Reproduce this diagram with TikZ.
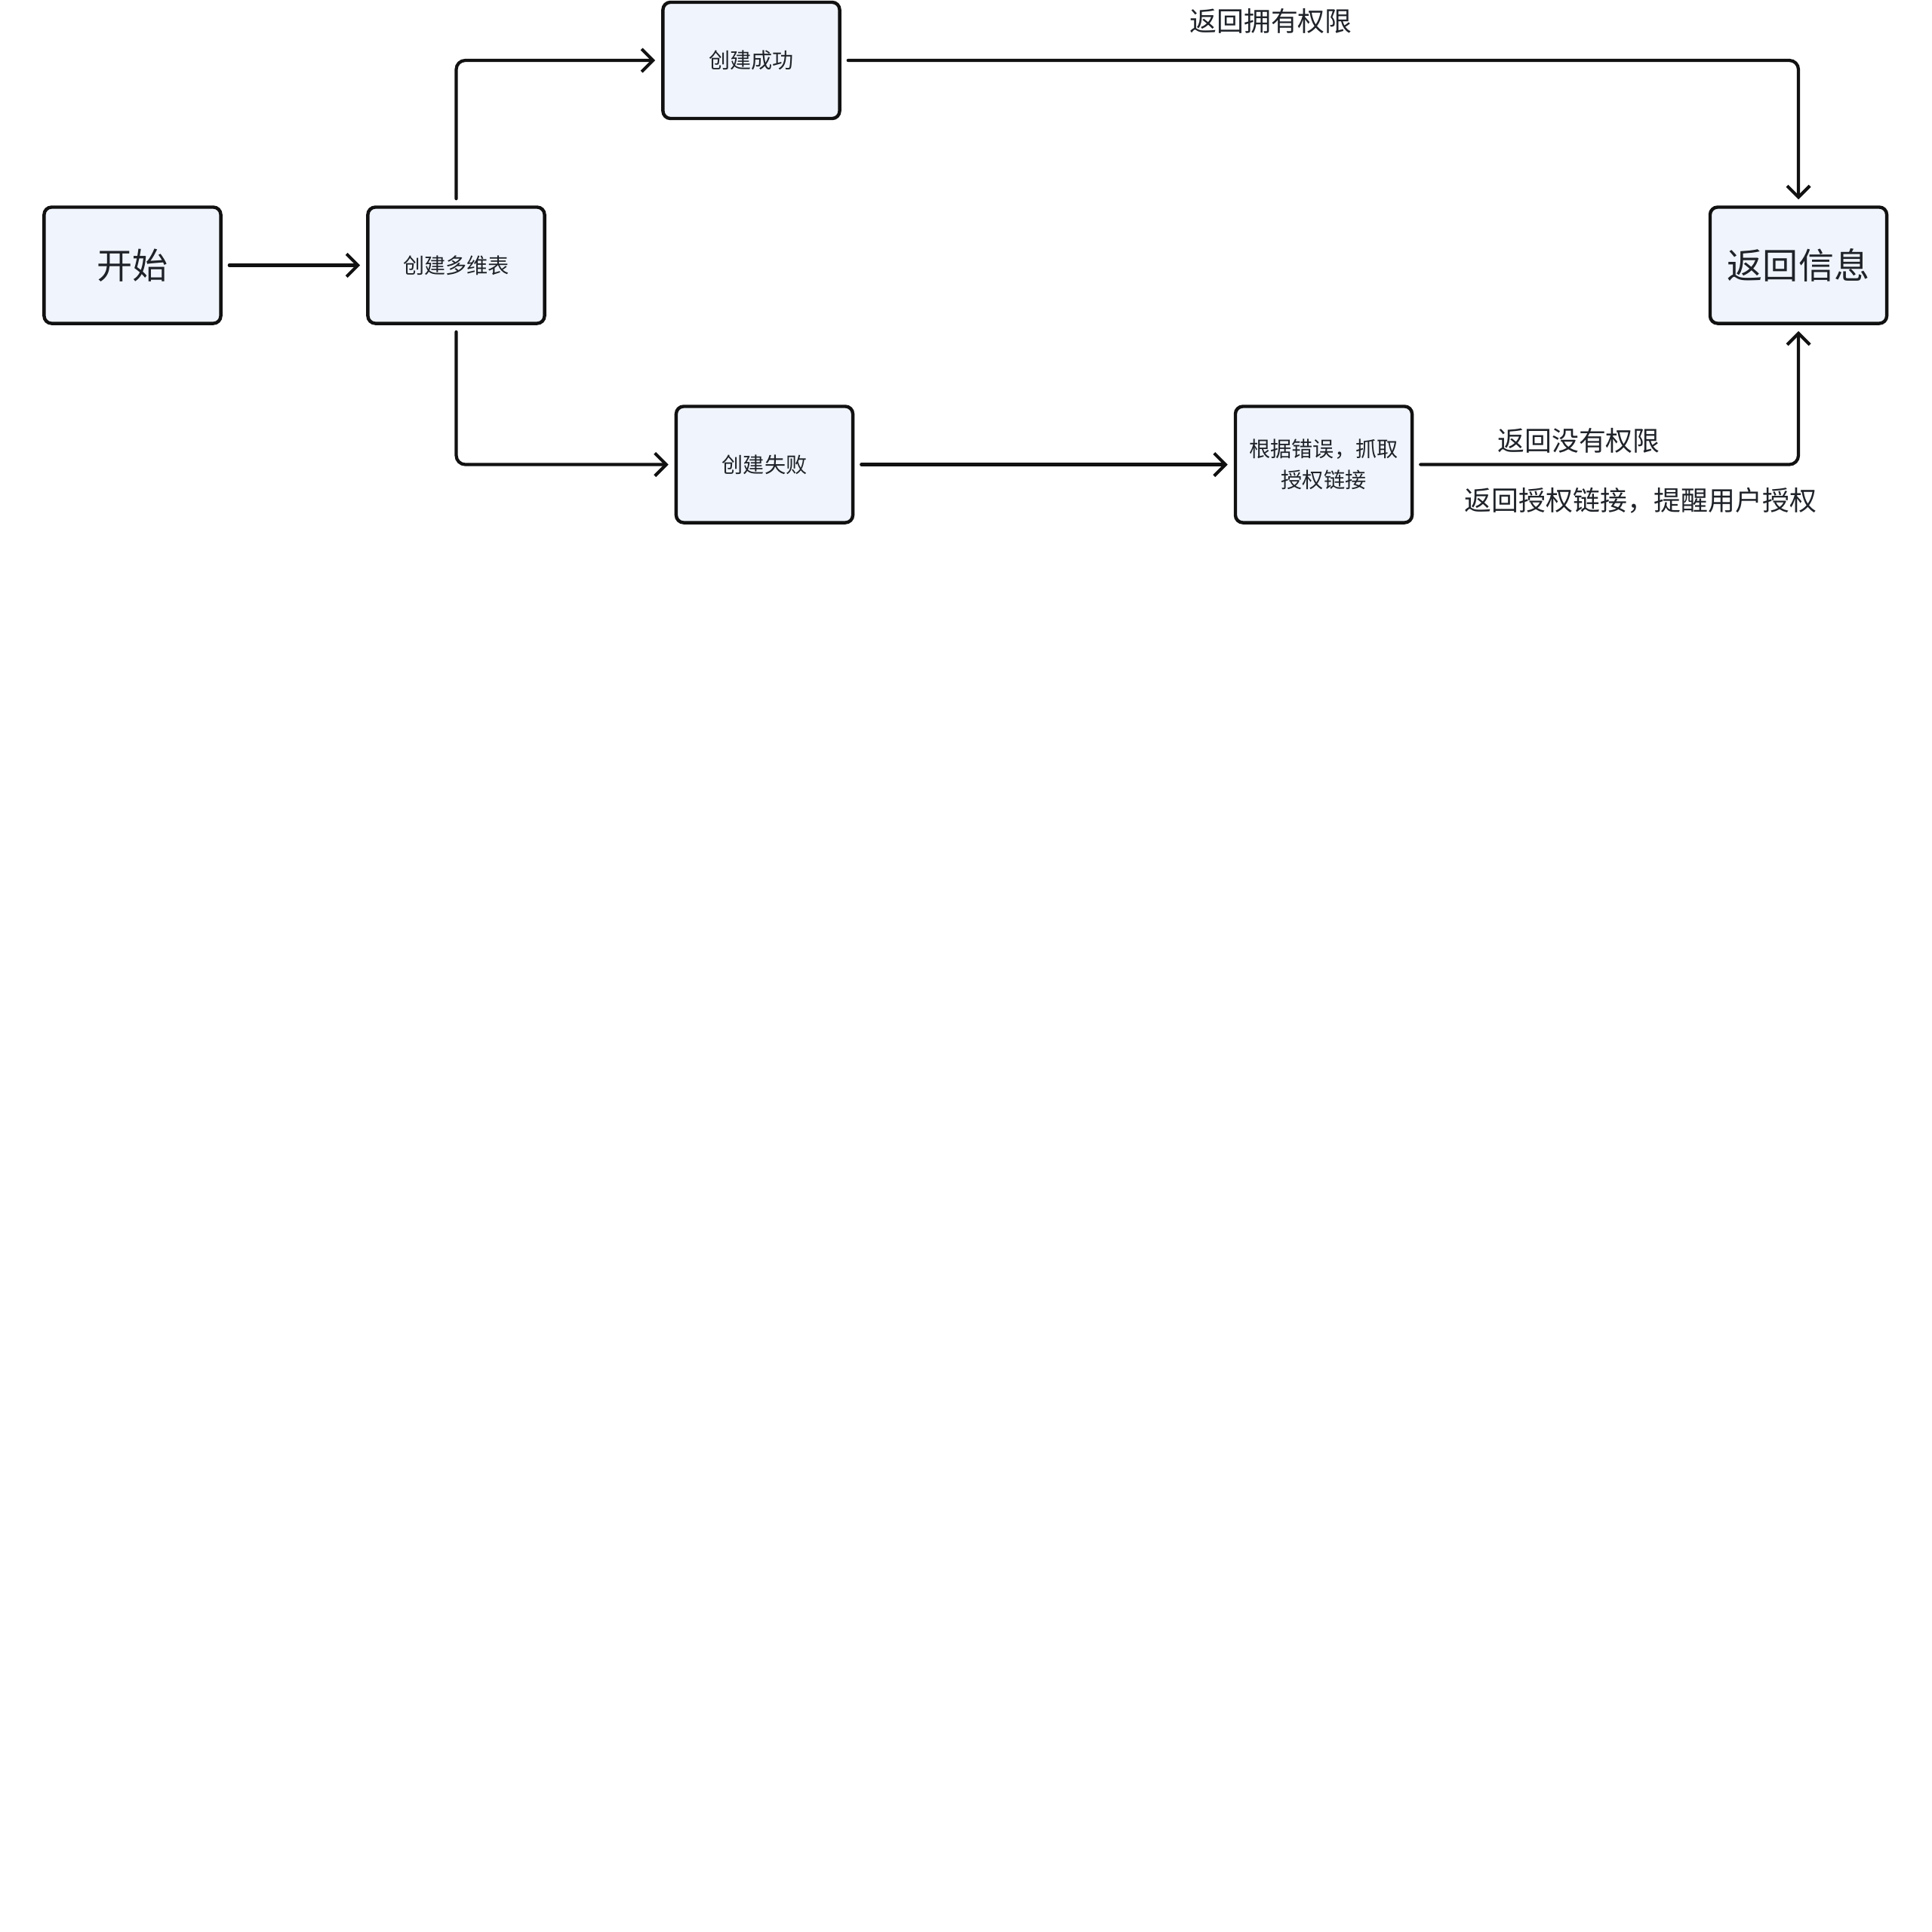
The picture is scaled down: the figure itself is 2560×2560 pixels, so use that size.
\documentclass[tikz,border=0pt]{standalone}
\usepackage{fontspec}
\setmainfont{Noto Sans CJK SC}
\usetikzlibrary{arrows.meta}
\definecolor{boxfill}{HTML}{F0F4FC}
\definecolor{txt}{HTML}{1F2329}
\definecolor{ln}{HTML}{111111}
\tikzset{
  flowbox/.style={draw=ln, fill=boxfill, line width=1.25pt, rounded corners=0.1cm,
    minimum width=2.34cm, minimum height=1.54cm, inner sep=0pt, align=center,
    text=txt, font=\fontsize{8pt}{11.7pt}\selectfont},
  bigbox/.style={flowbox, font=\fontsize{13.4pt}{16pt}\selectfont},
  conn/.style={draw=ln, line width=1.2pt, line cap=round, rounded corners=0.12cm,
    -{Straight Barb[length=0.15cm,width=0.3cm,line width=1.2pt]}},
  lbl/.style={text=txt, font=\fontsize{10.2pt}{12pt}\selectfont, inner sep=0pt},
}
\begin{document}
\begin{tikzpicture}[x=0.01cm,y=-0.01cm]
\useasboundingbox (0,0) rectangle (2560,2560);
\node[bigbox] (start) at (175.5,351.5) {开始};
\node[flowbox] (dw) at (604.5,351.5) {创建多维表};
\node[flowbox] (cg) at (995.5,80) {创建成功};
\node[flowbox] (sb) at (1013,615.5) {创建失败};
\node[flowbox] (gj) at (1754,615.5) {根据错误，抓取\\授权链接};
\node[bigbox] (info) at (2383,351.5) {返回信息};
\node[lbl] (l1) at (1684,28) {返回拥有权限};
\node[lbl] (l2) at (2092,584) {返回没有权限};
\node[lbl] (l3) at (2174,663) {返回授权链接，提醒用户授权};
\draw[conn, shorten <=0.09cm, shorten >=0.08cm] (start.east) -- (dw.west);
\draw[conn, shorten <=0.09cm, shorten >=0.08cm] (dw.north) |- (cg.west);
\draw[conn, shorten <=0.09cm, shorten >=0.08cm] (dw.south) |- (sb.west);
\draw[conn, shorten <=0.09cm, shorten >=0.08cm] (sb.east) -- (gj.west);
\draw[conn, shorten <=0.09cm, shorten >=0.08cm] (cg.east) -| (info.north);
\draw[conn, shorten <=0.09cm, shorten >=0.08cm] (gj.east) -| (info.south);
\end{tikzpicture}
\end{document}
